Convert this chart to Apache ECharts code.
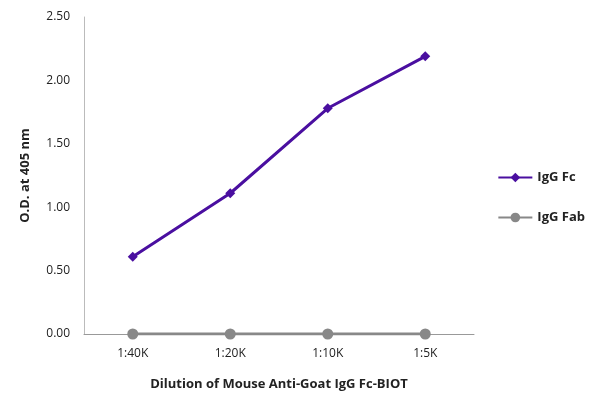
<!DOCTYPE html><html><head><meta charset="utf-8"><script src="https://cdn.jsdelivr.net/npm/echarts@6/dist/echarts.min.js"></script></head><body style="margin:0"><div id="c" style="width:600px;height:404px"></div><script>
const categories=['1:40K','1:20K','1:10K','1:5K'];
const iggFc=[0.61,1.11,1.78,2.19];
const iggFab=[0,0,0,0];
const yTicks=[0,0.5,1,1.5,2,2.5];
const f='"Open Sans", sans-serif';
const c=echarts.init(document.getElementById('c'));
c.setOption({
 grid:{left:84,right:126,top:17,bottom:70},
 xAxis:{type:'category',data:categories,boundaryGap:true,axisLine:{lineStyle:{color:'#999'}},axisTick:{show:false},
  axisLabel:{color:'#222',fontFamily:f,fontSize:12,margin:14},
  name:'Dilution of Mouse Anti-Goat IgG Fc-BIOT',nameLocation:'middle',nameGap:44,nameTextStyle:{fontFamily:f,fontWeight:'bold',fontSize:13,color:'#222'}},
 yAxis:{type:'value',min:0,max:2.5,interval:0.5,axisLine:{show:true,lineStyle:{color:'#bbb'}},axisTick:{show:false},splitLine:{show:false},
  axisLabel:{color:'#222',fontFamily:f,fontSize:12,formatter:v=>v.toFixed(2),margin:14},
  name:'O.D. at 405 nm',nameLocation:'middle',nameGap:52,nameTextStyle:{fontFamily:f,fontWeight:'bold',fontSize:13,color:'#222'}},
 legend:{orient:'vertical',right:10,top:166,itemGap:27,itemWidth:34,itemHeight:12,textStyle:{fontFamily:f,fontWeight:'bold',fontSize:13,color:'#222'},
  data:['IgG Fc','IgG Fab']},
 series:[
  {name:'IgG Fab',type:'line',data:iggFab,symbol:'circle',symbolSize:11,lineStyle:{color:'#888',width:3},itemStyle:{color:'#888'}},
  {name:'IgG Fc',type:'line',data:iggFc,symbol:'diamond',symbolSize:10,lineStyle:{color:'#4a0fa0',width:3},itemStyle:{color:'#4a0fa0'}}
 ]
});
</script></body></html>
